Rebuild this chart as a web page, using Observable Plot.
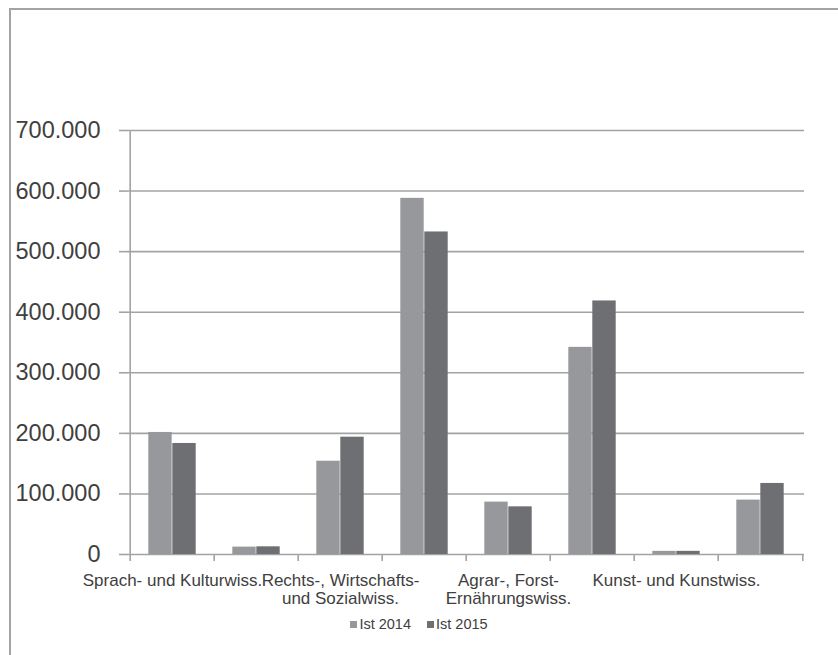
<!DOCTYPE html>
<html>
<head>
<meta charset="utf-8">
<script src="https://cdn.jsdelivr.net/npm/d3@7"></script>
<script src="https://cdn.jsdelivr.net/npm/@observablehq/plot@0.6"></script>
<style>
  html, body { margin: 0; padding: 0; background: #fff; }
  body { width: 838px; height: 655px; position: relative; overflow: hidden; font-family: "Liberation Sans", "DejaVu Sans", sans-serif; }
  #frame { position: absolute; left: 9px; top: 8px; width: 900px; height: 700px; border-top: 2px solid #a3a3a3; border-left: 2px solid #a3a3a3; pointer-events: none; }
  #chart { position: absolute; left: 0; top: 0; }
  #legend { position: absolute; left: 0; top: 616px; width: 838px; text-align: center; font-size: 14.5px; color: #404040; }
  #legend span.sw { display: inline-block; width: 7px; height: 7px; margin-right: 2px; vertical-align: 1px; }
  #legend span.item { margin: 0 8px; }
</style>
</head>
<body>
<div id="frame"></div>
<div id="chart"></div>
<div id="legend"></div>
<script>
// Data
const categories = [
  "Sprach- und Kulturwiss.",
  "Sport",
  "Rechts-, Wirtschafts- und Sozialwiss.",
  "Mathematik, Naturwiss.",
  "Agrar-, Forst- Ernährungswiss.",
  "Ingenieurwiss.",
  "Kunst- und Kunstwiss.",
  "Humanmedizin, Gesundheitswiss."
];
const tickLabels = [
  "Sprach- und Kulturwiss.",
  "",
  "Rechts-, Wirtschafts-\nund Sozialwiss.",
  "",
  "Agrar-, Forst-\nErnährungswiss.",
  "",
  "Kunst- und Kunstwiss.",
  ""
];
const series = ["Ist 2014", "Ist 2015"];
const ist2014 = [201500, 12200, 154000, 588000, 86500, 342000, 5200, 89800];
const ist2015 = [183300, 12700, 193700, 532500, 78700, 418600, 5200, 117300];
const yTicks = [0, 100000, 200000, 300000, 400000, 500000, 600000, 700000];
const colors = ["#97989c", "#6e6f73"];

const rows2014 = categories.map((c, i) => ({category: c, value: ist2014[i]}));
const rows2015 = categories.map((c, i) => ({category: c, value: ist2015[i]}));

const W = 838, H = 612;
const mL = 127, mR = 34, mT = 130, mB = 58;
const bw = (W - mL - mR) / categories.length;
const groupW = 48;
const outerInset = (bw - groupW) / 2;
const gridColor = "#a3a3a3";
const fmt = d => d === 0 ? "0" : d3.format(",")(d).replace(/,/g, ".");

const chart = Plot.plot({
  width: W, height: H,
  marginLeft: mL, marginRight: mR, marginTop: mT, marginBottom: mB,
  style: {fontFamily: "Liberation Sans, DejaVu Sans, sans-serif", color: "#404040", background: "transparent"},
  x: {type: "band", domain: categories, padding: 0},
  y: {domain: [0, 700000]},
  marks: [
    Plot.ruleY(yTicks, {stroke: gridColor, strokeWidth: 1.6}),
    Plot.ruleX([0], {x: () => categories[0], dx: -bw / 2, y1: 0, y2: 700000, stroke: gridColor, strokeWidth: 1.6}),
    Plot.barY(rows2014, {x: "category", y: "value", fill: colors[0], insetLeft: outerInset, insetRight: outerInset + groupW / 2}),
    Plot.barY(rows2015, {x: "category", y: "value", fill: colors[1], insetLeft: outerInset + groupW / 2, insetRight: outerInset}),
    Plot.ruleX(categories, {x: d => d, dx: -bw / 2, y1: 0, y2: 0, insetBottom: -7, stroke: gridColor, strokeWidth: 1.6}),
    Plot.ruleX([categories[categories.length - 1]], {x: d => d, dx: bw / 2, y1: 0, y2: 0, insetBottom: -7, stroke: gridColor, strokeWidth: 1.6}),
    Plot.axisY({ticks: yTicks, tickFormat: fmt, tickSize: 8, tickPadding: 19, stroke: gridColor, strokeWidth: 1.6, fontSize: 23.5, label: null, fill: "#404040"}),
    Plot.axisX({tickSize: 0, tickPadding: 18, tickFormat: (d, i) => tickLabels[categories.indexOf(d)], fontSize: 17, lineHeight: 1.08, label: null, fill: "#404040"})
  ]
});
document.getElementById("chart").appendChild(chart);

const legend = document.getElementById("legend");
series.forEach((s, i) => {
  const item = document.createElement("span");
  item.className = "item";
  const sw = document.createElement("span");
  sw.className = "sw";
  sw.style.background = colors[i];
  item.appendChild(sw);
  item.appendChild(document.createTextNode(s));
  legend.appendChild(item);
});
</script>
</body>
</html>
